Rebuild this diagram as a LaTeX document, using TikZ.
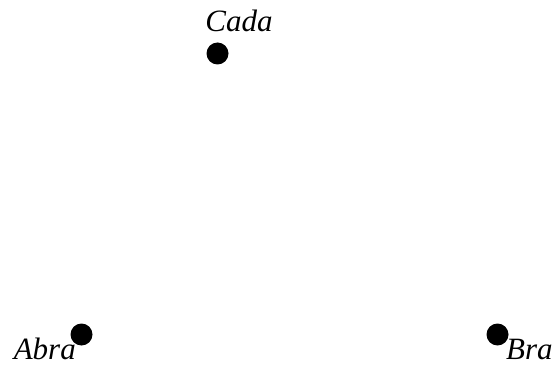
\documentclass[tikz,border=0pt]{standalone}
\usepackage{fontspec}
\setmainfont{Liberation Serif}
\usetikzlibrary{positioning}

\begin{document}
\begin{tikzpicture}[
  x=1pt,y=-1pt,
  font=\fontsize{31}{36}\selectfont\itshape,
  point/.style={circle,fill=black,inner sep=0pt,minimum size=22pt},
  ptlabel/.style={inner sep=0pt,anchor=base}
]
  \useasboundingbox (0,0) rectangle (557,366);

  \node[point] (cada) at (217.5,53.5) {};
  \node[point] (abra) at (81.5,334.5) {};
  \node[point] (bra)  at (497.5,334.5) {};

  \node[ptlabel] (cadatxt) at (239,32) {Cada};
  \node[ptlabel,anchor=base east] (abratxt) at (76,359) {Abra};
  \node[ptlabel,anchor=base west] (bratxt) at (506,359) {Bra};
\end{tikzpicture}
\end{document}
